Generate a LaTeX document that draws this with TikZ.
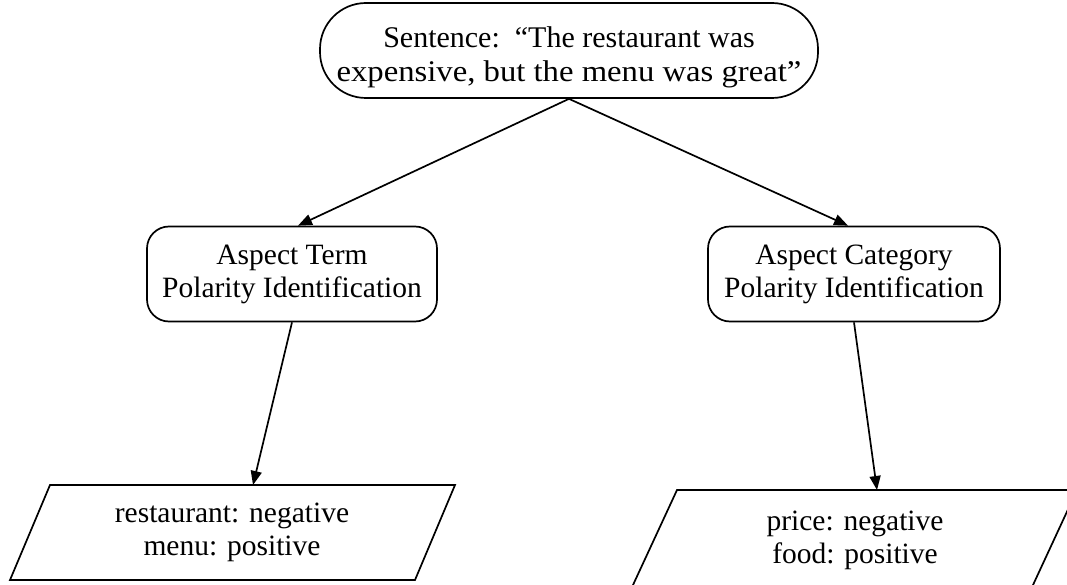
\documentclass[tikz,border=0pt]{standalone}
\usepackage{fontspec}
\usepackage{graphicx}
\setmainfont{Liberation Serif}
\usetikzlibrary{arrows.meta,calc}
\begin{document}
\begin{tikzpicture}[x=1pt,y=-1pt,
  box/.style={draw,line width=1.7pt,align=center,inner sep=0pt},
  toptext/.style={font=\fontsize{30}{34}\selectfont},
  bodytext/.style={font=\fontsize{29.5}{33}\selectfont},
  link/.style={line width=1.7pt,-{Triangle[length=14pt,width=11pt]}},
  slab/.style={draw,line width=1.7pt,line join=miter}]
\clip (0,0) rectangle (1067,585);
% sentence at the top
\node[box,rounded corners=46pt,minimum width=498pt,minimum height=95pt]
  (sent) at (569,50.5) {};
\node[toptext,align=center,inner sep=0pt] (senttext) at (569,57)
  {Sentence:\ \ “The restaurant was\\\scalebox{1.09}[1]{expensive, but the menu was great”}};
% the two identification tasks
\node[box,bodytext,rounded corners=22pt,minimum width=290pt,minimum height=95pt]
  (term) at (292,274) {Aspect Term\\Polarity Identification};
\node[box,bodytext,rounded corners=22pt,minimum width=292pt,minimum height=95pt]
  (cat) at (854,274) {Aspect Category\\Polarity Identification};
% outputs as parallelograms
\draw[slab] (50,485) -- (455,485) -- (415,580) -- (10,580) -- cycle;
\node[bodytext,align=center,inner sep=0pt] (termout) at (232,532) {restaurant: negative\\menu: positive};
\coordinate (termin) at (253,485);
\draw[slab] (677,490) -- (1077,490) -- (1031.6,588) -- (631.6,588) -- cycle;
\node[bodytext,align=center,inner sep=0pt] (catout) at (855,540) {price: negative\\food: positive};
\coordinate (catin) at (877,490);
% connectors
\draw[link] (sent.south) -- ($(term.north)+(6,0)$);
\draw[link] (sent.south) -- ($(cat.north)+(-6,0)$);
\draw[link] (term.south) -- (termin);
\draw[link] (cat.south) -- (catin);
\end{tikzpicture}
\end{document}
